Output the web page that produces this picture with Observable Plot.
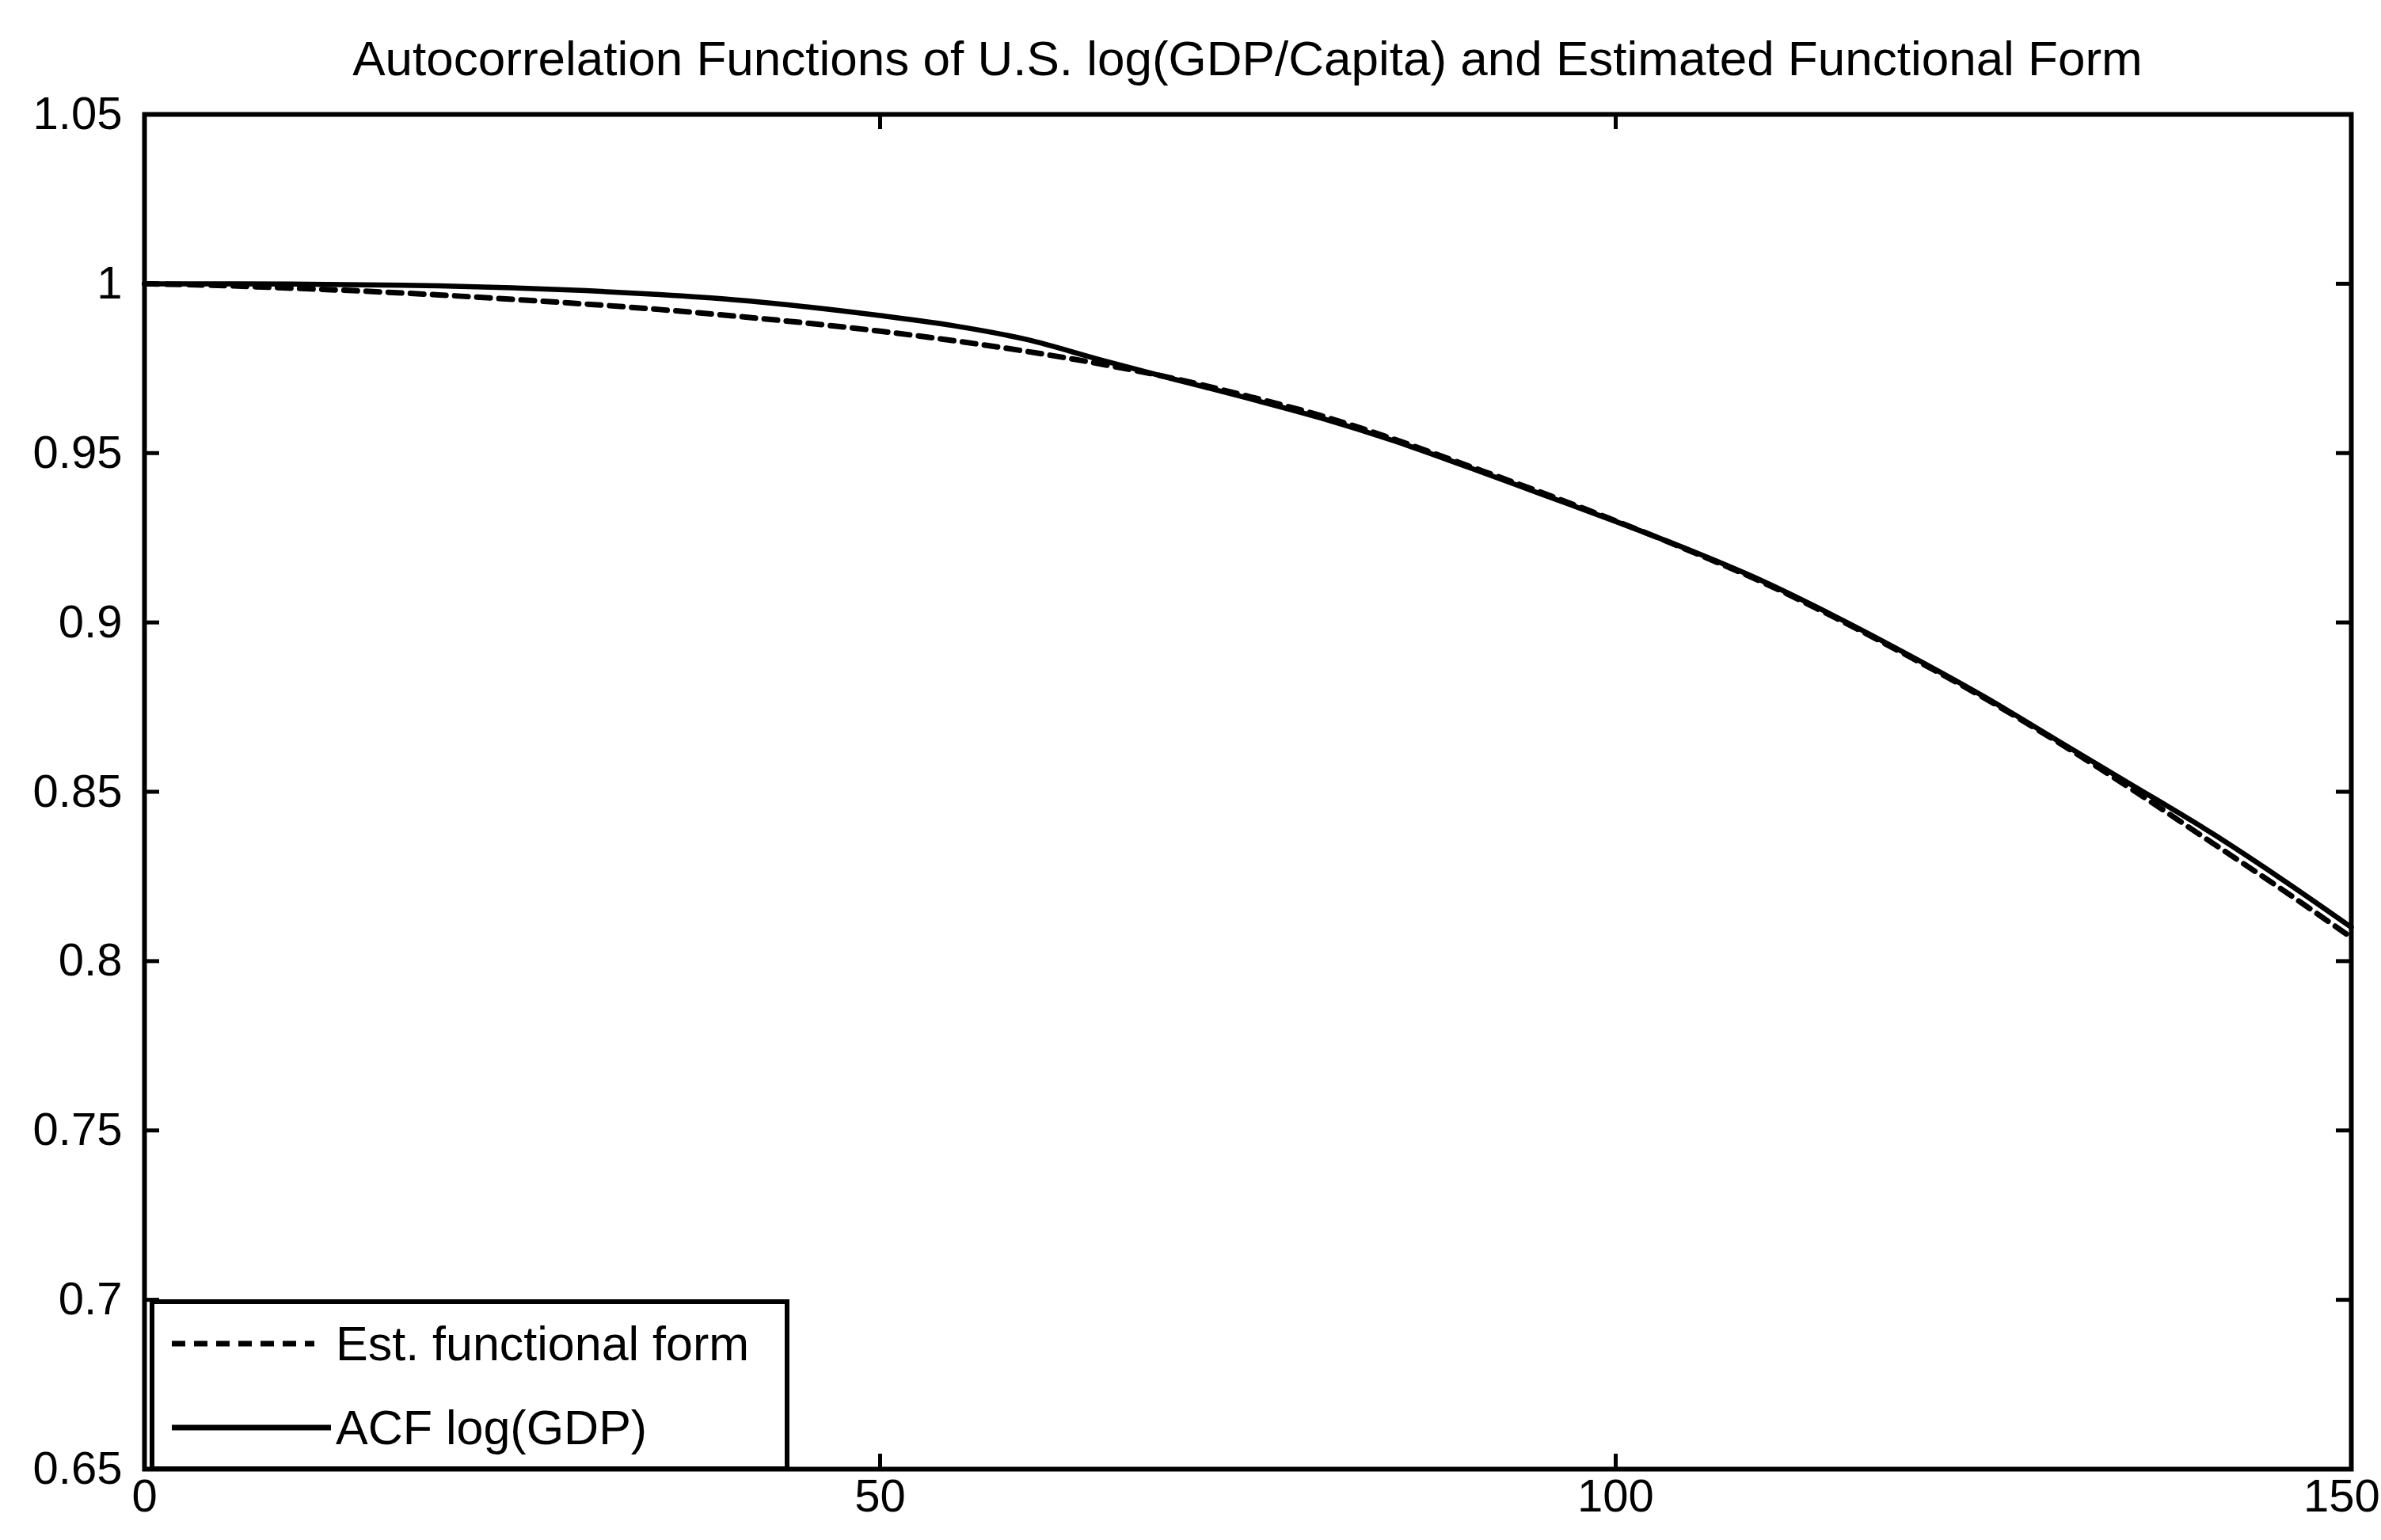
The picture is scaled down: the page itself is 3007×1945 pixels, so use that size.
<!DOCTYPE html>
<html>
<head>
<meta charset="utf-8">
<script src="https://cdn.jsdelivr.net/npm/d3@7"></script>
<script src="https://cdn.jsdelivr.net/npm/@observablehq/plot@0.6"></script>
<style>
  html, body { margin: 0; padding: 0; background: #fff; }
  #page { position: relative; width: 3007px; height: 1945px; background: #fff; font-family: "Liberation Sans", Arial, sans-serif; overflow: hidden; }
  #title { box-sizing: border-box; height: 100px; padding-top: 43px; padding-left: 182px; width: 2969px;
           text-align: center; font-size: 62px; line-height: 62px; color: #000; white-space: nowrap; }
  #chart svg { overflow: visible; }
  #legend { position: absolute; left: 0; top: 0; }
</style>
</head>
<body>
<div id="page">
  <div id="title"></div>
  <div id="chart"></div>
  <svg id="legend" width="3007" height="1945"></svg>
</div>
<script>
const titleText = "Autocorrelation Functions of U.S. log(GDP/Capita) and Estimated Functional Form";
const seriesNames = ["Est. functional form", "ACF log(GDP)"];

const lags = [0, 5, 10, 15, 20, 25, 30, 35, 40, 45, 50, 55, 60, 65, 70, 75,
              80, 85, 90, 95, 100, 105, 110, 115, 120, 125, 130, 135, 140, 145, 150];

const acfLogGDP = [1.0000, 1.0000, 0.9999, 0.9997, 0.9994, 0.9988, 0.9980, 0.9968, 0.9953, 0.9932,
                   0.9906, 0.9876, 0.9835, 0.9775, 0.9718, 0.9662, 0.9603, 0.9535, 0.9458, 0.9378,
                   0.9298, 0.9214, 0.9122, 0.9016, 0.8902, 0.8782, 0.8652, 0.8522, 0.8392, 0.8250, 0.8100];

const estFunctionalForm = [1.0000, 0.9995, 0.9987, 0.9978, 0.9967, 0.9954, 0.9940, 0.9924, 0.9905, 0.9884,
                           0.9860, 0.9832, 0.9800, 0.9763, 0.9720, 0.9668, 0.9610, 0.9540, 0.9462, 0.9383,
                           0.9300, 0.9212, 0.9118, 0.9012, 0.8898, 0.8778, 0.8648, 0.8510, 0.8365, 0.8220, 0.8070];

const xTicks = [0, 50, 100, 150];
const xTickLabels = ["0", "50", "100", "150"];
const yTicks = [0.65, 0.7, 0.75, 0.8, 0.85, 0.9, 0.95, 1, 1.05];
const yTickLabels = ["0.65", "0.7", "0.75", "0.8", "0.85", "0.9", "0.95", "1", "1.05"];

document.getElementById("title").textContent = titleText;

const W = 3007, H = 1845;
const mT = 44, mB = 90, mL = 182, mR = 38;
const innerW = W - mL - mR, innerH = H - mT - mB;
const tickLen = 19;

const acfData = lags.map((l, i) => ({lag: l, v: acfLogGDP[i]}));
const estData = lags.map((l, i) => ({lag: l, v: estFunctionalForm[i]}));
const xFmt = d => xTickLabels[xTicks.indexOf(d)];

const chart = Plot.plot({
  width: W, height: H,
  marginTop: mT, marginBottom: mB, marginLeft: mL, marginRight: mR,
  style: {fontFamily: "Liberation Sans, Arial, sans-serif", background: "transparent", color: "#000", overflow: "visible"},
  x: {domain: [0, 150]},
  y: {domain: [0.65, 1.05]},
  marks: [
    // inward ticks on all four sides
    Plot.tickX(xTicks, {x: d => d, insetTop: innerH - tickLen, stroke: "#000", strokeWidth: 5}),
    Plot.tickX(xTicks, {x: d => d, insetBottom: innerH - tickLen, stroke: "#000", strokeWidth: 5}),
    Plot.tickY(yTicks, {y: d => d, insetRight: innerW - tickLen, stroke: "#000", strokeWidth: 5}),
    Plot.tickY(yTicks, {y: d => d, insetLeft: innerW - tickLen, stroke: "#000", strokeWidth: 5}),
    Plot.line(estData, {x: "lag", y: "v", curve: "monotone-x", stroke: "#000", strokeWidth: 7,
                        strokeDasharray: "17,11"}),
    Plot.line(acfData, {x: "lag", y: "v", curve: "monotone-x", stroke: "#000", strokeWidth: 6.5}),
    Plot.frame({stroke: "#000", strokeWidth: 6}),
    Plot.axisX(xTicks.slice(0, 3), {anchor: "bottom", tickSize: 0, tickPadding: 12, fontSize: 58,
                        tickFormat: xFmt, label: null}),
    Plot.axisX(xTicks.slice(3), {anchor: "bottom", tickSize: 0, tickPadding: 12, fontSize: 58, dx: -12,
                        tickFormat: xFmt, label: null}),
    Plot.axisY(yTicks, {anchor: "left", tickSize: 0, tickPadding: 28, fontSize: 58,
                        tickFormat: d => yTickLabels[yTicks.indexOf(d)], label: null})
  ]
});
document.getElementById("chart").appendChild(chart);

// Legend (inside the axes, lower-left), page coordinates
const lg = d3.select("#legend");
const box = {x: 192, y: 1644, w: 802, h: 211};
lg.append("rect").attr("x", box.x).attr("y", box.y).attr("width", box.w).attr("height", box.h)
  .attr("fill", "#fff").attr("stroke", "#000").attr("stroke-width", 6);
const rows = [
  {name: seriesNames[0], y: 1697, dash: "17,11", x2: 397},
  {name: seriesNames[1], y: 1803, dash: null, x2: 418}
];
rows.forEach(r => {
  const ln = lg.append("line").attr("x1", 217).attr("x2", r.x2).attr("y1", r.y).attr("y2", r.y)
    .attr("stroke", "#000").attr("stroke-width", 7);
  if (r.dash) ln.attr("stroke-dasharray", r.dash);
  lg.append("text").attr("x", 424).attr("y", r.y + 21).attr("font-size", 61)
    .attr("font-family", "Liberation Sans, Arial, sans-serif").attr("fill", "#000").text(r.name);
});
</script>
</body>
</html>
